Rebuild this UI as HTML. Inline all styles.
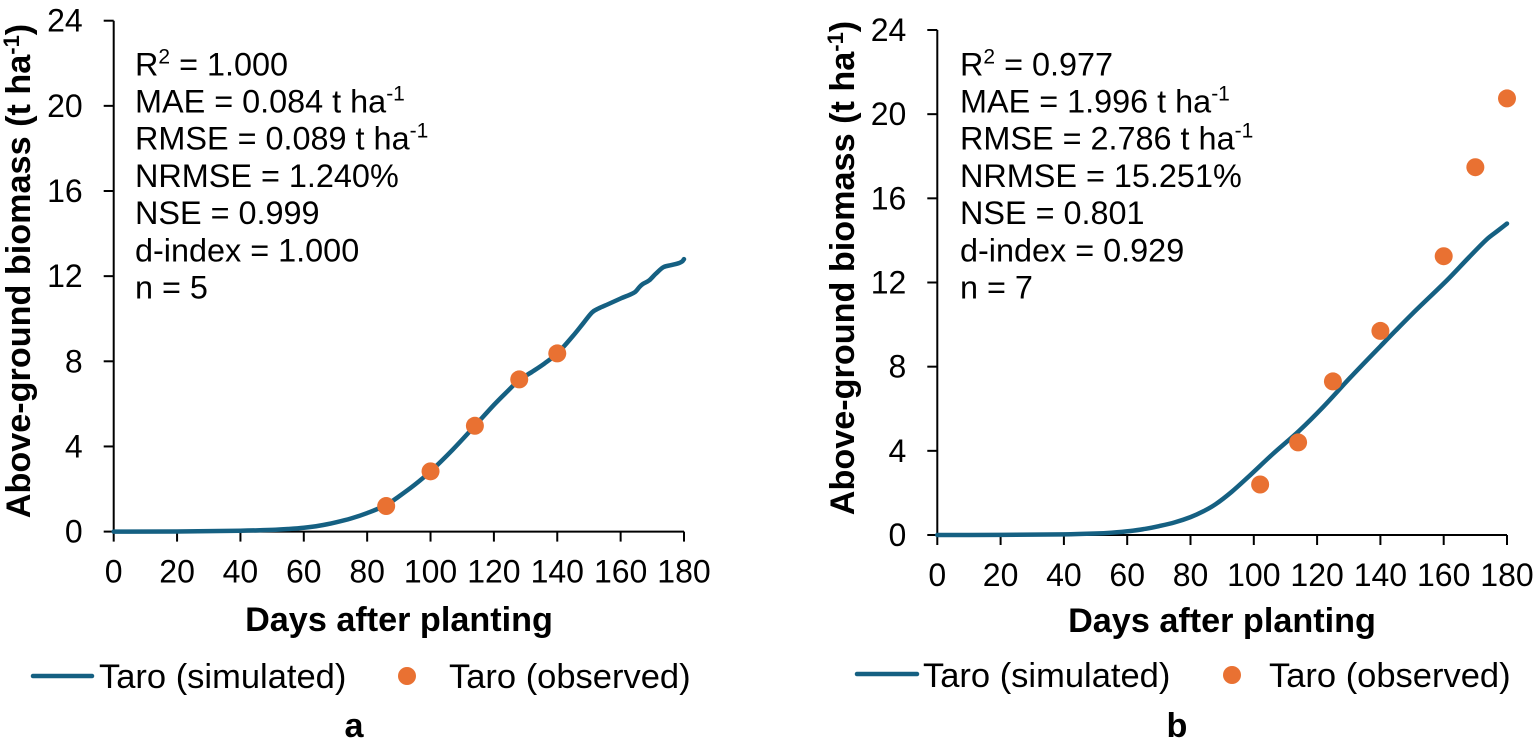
<!DOCTYPE html>
<html lang="en">
<head>
<meta charset="utf-8">
<title>Taro above-ground biomass: simulated vs observed</title>
<style>
html,body{margin:0;padding:0;background:#fff;}
svg{display:block;}
text{font-family:"Liberation Sans",Arial,sans-serif;fill:#000;}
.tick{font-size:32px;}
.stat{font-size:32.4px;}
.title{font-size:34.2px;font-weight:bold;}
.leg{font-size:34.5px;}
</style>
</head>
<body>
<svg id="figure" width="1537" height="750" viewBox="0 0 1537 750" xmlns="http://www.w3.org/2000/svg">
  <rect width="1537" height="750" fill="#fff"/>

  <g id="panel-a">
    <text class="title" transform="translate(30,271) rotate(-90)" text-anchor="middle">Above-ground biomass (t ha<tspan font-size="22" dy="-11">-1</tspan><tspan dy="11">)</tspan></text>
    <text class="title" x="399" y="631" text-anchor="middle">Days after planting</text>
    <g>
      <text class="stat" x="135" y="75.3">R<tspan font-size="21" dy="-12">2</tspan><tspan dy="12"> = 1.000</tspan></text>
      <text class="stat" x="135" y="112.5">MAE = 0.084 t ha<tspan font-size="21" dy="-12">-1</tspan></text>
      <text class="stat" x="135" y="149.7">RMSE = 0.089 t ha<tspan font-size="21" dy="-12">-1</tspan></text>
      <text class="stat" x="135" y="186.9">NRMSE = 1.240%</text>
      <text class="stat" x="135" y="224.1">NSE = 0.999</text>
      <text class="stat" x="135" y="261.3">d-index = 1.000</text>
      <text class="stat" x="135" y="298.5">n = 5</text>
    </g>
    <g>
      <line x1="33" y1="676" x2="92" y2="676" stroke="#156082" stroke-width="4.5" stroke-linecap="round"/>
      <text class="leg" x="99" y="688">Taro (simulated)</text>
      <circle cx="407" cy="676" r="9" fill="#E97132"/>
      <text class="leg" x="449" y="688">Taro (observed)</text>
    </g>
    <text class="title" x="354" y="737" text-anchor="middle">a</text>
  </g>

  <g id="panel-b">
    <text class="title" transform="translate(854,268) rotate(-90)" text-anchor="middle">Above-ground biomass (t ha<tspan font-size="22" dy="-11">-1</tspan><tspan dy="11">)</tspan></text>
    <text class="title" x="1222" y="632" text-anchor="middle">Days after planting</text>
    <g>
      <text class="stat" x="960" y="75.3">R<tspan font-size="21" dy="-12">2</tspan><tspan dy="12"> = 0.977</tspan></text>
      <text class="stat" x="960" y="112.5">MAE = 1.996 t ha<tspan font-size="21" dy="-12">-1</tspan></text>
      <text class="stat" x="960" y="149.7">RMSE = 2.786 t ha<tspan font-size="21" dy="-12">-1</tspan></text>
      <text class="stat" x="960" y="186.9">NRMSE = 15.251%</text>
      <text class="stat" x="960" y="224.1">NSE = 0.801</text>
      <text class="stat" x="960" y="261.3">d-index = 0.929</text>
      <text class="stat" x="960" y="298.5">n = 7</text>
    </g>
    <g>
      <line x1="857" y1="674" x2="917" y2="674" stroke="#156082" stroke-width="4.5" stroke-linecap="round"/>
      <text class="leg" x="923" y="687">Taro (simulated)</text>
      <circle cx="1232" cy="675" r="9" fill="#E97132"/>
      <text class="leg" x="1269" y="687">Taro (observed)</text>
    </g>
    <text class="title" x="1177" y="737" text-anchor="middle">b</text>
  </g>
</svg>
<script>
const xTickValues = [0, 20, 40, 60, 80, 100, 120, 140, 160, 180];
const yTickValues = [0, 4, 8, 12, 16, 20, 24];

const simDaysA = [0, 20, 40, 50, 55, 60, 65, 70, 75, 80, 86, 90, 95, 100, 107, 114, 120, 124, 128, 132, 136, 140, 145, 148, 151, 153, 156, 160, 164.5, 166, 167, 169, 171, 173.5, 176, 178.5, 179.5, 180];
const simValuesA = [0, 0.005, 0.04, 0.08, 0.12, 0.18, 0.28, 0.43, 0.62, 0.87, 1.25, 1.65, 2.2, 2.83, 3.85, 4.97, 5.95, 6.55, 7.12, 7.5, 7.9, 8.37, 9.2, 9.75, 10.3, 10.48, 10.68, 10.95, 11.25, 11.5, 11.63, 11.8, 12.1, 12.42, 12.52, 12.62, 12.7, 12.8];

const obsDaysA = [86, 100, 114, 128, 140];
const obsValuesA = [1.2, 2.83, 4.97, 7.15, 8.37];

const simDaysB = [0, 20, 40, 50, 55, 61, 66, 70, 75, 80, 84, 88, 93, 98.4, 106, 114.3, 122, 130.4, 140, 150, 161, 168, 173.6, 177, 180];
const simValuesB = [0, 0.005, 0.03, 0.07, 0.11, 0.19, 0.3, 0.42, 0.6, 0.85, 1.12, 1.47, 2.05, 2.78, 3.85, 4.95, 6.1, 7.47, 8.97, 10.5, 12.1, 13.2, 14.05, 14.45, 14.8];

const obsDaysB = [102, 114, 125, 140, 160, 170, 180];
const obsValuesB = [2.4, 4.4, 7.3, 9.7, 13.25, 17.48, 20.75];

const SVGNS = 'http://www.w3.org/2000/svg';

function make(tag, attrs, parent) {
  const el = document.createElementNS(SVGNS, tag);
  Object.keys(attrs).forEach(function (k) { el.setAttribute(k, attrs[k]); });
  parent.appendChild(el);
  return el;
}

function smoothPath(points) {
  let d = 'M' + points[0][0].toFixed(2) + ' ' + points[0][1].toFixed(2);
  for (let i = 0; i < points.length - 1; i++) {
    const p0 = points[Math.max(i - 1, 0)];
    const p1 = points[i];
    const p2 = points[i + 1];
    const p3 = points[Math.min(i + 2, points.length - 1)];
    const seg = p2[0] - p1[0];
    const t1 = (p2[1] - p0[1]) / Math.max(p2[0] - p0[0], 0.01);
    const t2 = (p3[1] - p1[1]) / Math.max(p3[0] - p1[0], 0.01);
    d += ' C' + (p1[0] + seg / 3).toFixed(2) + ' ' + (p1[1] + t1 * seg / 3).toFixed(2) +
         ' ' + (p2[0] - seg / 3).toFixed(2) + ' ' + (p2[1] - t2 * seg / 3).toFixed(2) +
         ' ' + p2[0].toFixed(2) + ' ' + p2[1].toFixed(2);
  }
  return d;
}

function drawPanel(parent, box, simDays, simValues, obsDays, obsValues) {
  const xScale = function (d) { return box.left + (d - 0) / 180 * (box.right - box.left); };
  const yScale = function (v) { return box.bottom - (v - 0) / 24 * (box.bottom - box.top); };
  const axisStyle = { stroke: '#000', 'stroke-width': 2, fill: 'none' };

  const yAxis = make('line', Object.assign({ x1: box.left, y1: box.top, x2: box.left, y2: box.bottom }, axisStyle), parent);
  
  

  const xAxis = make('line', Object.assign({ x1: box.left, y1: box.bottom, x2: box.right, y2: box.bottom }, axisStyle), parent);
  
  

  yTickValues.forEach(function (v) {
    const tick = make('line', Object.assign({ x1: box.left - 10, y1: yScale(v), x2: box.left, y2: yScale(v) }, axisStyle), parent);
    
    

    const label = make('text', { class: 'tick', x: box.left - 31, y: yScale(v) + box.yLabelDy, 'text-anchor': 'end' }, parent);
    label.textContent = String(v);
    
    
  });

  xTickValues.forEach(function (d) {
    const tick = make('line', Object.assign({ x1: xScale(d), y1: box.bottom, x2: xScale(d), y2: box.bottom + 10 }, axisStyle), parent);
    
    

    const label = make('text', { class: 'tick', x: xScale(d), y: box.bottom + 51, 'text-anchor': 'middle' }, parent);
    label.textContent = String(d);
    
    
  });

  const pts = simDays.map(function (d, i) { return [xScale(d), yScale(simValues[i])]; });
  const line = make('path', { d: smoothPath(pts), fill: 'none', stroke: '#156082', 'stroke-width': 4.5, 'stroke-linecap': 'round', 'stroke-linejoin': 'round' }, parent);
  
  

  obsDays.forEach(function (d, i) {
    const dot = make('circle', { cx: xScale(d), cy: yScale(obsValues[i]), r: 9, fill: '#E97132' }, parent);
    
    
  });
}

drawPanel(document.getElementById('panel-a'),
  { left: 113.7, right: 684, top: 20.7, bottom: 531.6, yLabelDy: 11 },
  simDaysA, simValuesA, obsDaysA, obsValuesA);

drawPanel(document.getElementById('panel-b'),
  { left: 937.3, right: 1507, top: 30, bottom: 535, yLabelDy: 11 },
  simDaysB, simValuesB, obsDaysB, obsValuesB);
</script>
</body>
</html>
